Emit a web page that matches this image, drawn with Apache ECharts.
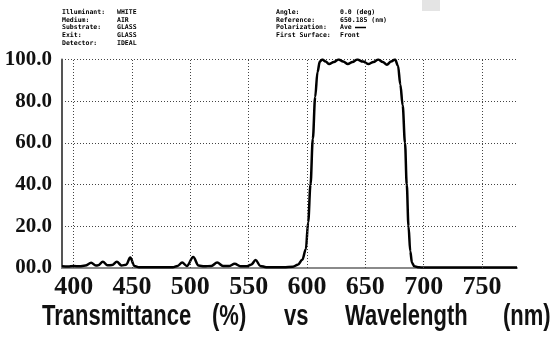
<!DOCTYPE html>
<html>
<head>
<meta charset="utf-8">
<script src="https://cdn.jsdelivr.net/npm/echarts@6/dist/echarts.min.js"></script>
<style>
    html, body { margin: 0; padding: 0; background: #fff; }
    #chart { width: 555px; height: 338px; }
</style>
</head>
<body>
<div id="chart"></div>
<script>
// wavelength (nm) and transmittance (%)
const wavelengths = [
    390, 395, 400, 405, 410, 415, 419, 421, 425, 429, 433, 437, 441, 445, 448.5, 452, 456, 470,
    485, 489, 493, 497, 502.5, 507, 512, 518, 523, 528, 533, 538, 543, 548, 552, 556, 560, 565,
    580, 588, 592, 596, 599, 601, 603, 605, 607, 609, 611, 613, 616, 619, 623, 627, 631, 635,
    639, 643, 648, 652.5, 657, 661, 665, 668.5, 672, 675.5, 678, 680, 682, 684, 685.5, 687,
    688.5, 690, 692, 696, 700, 780
];
const transmittance = [
    0.8, 0.7, 0.9, 0.8, 1.2, 2.5, 1.2, 1.3, 3.0, 1.3, 1.4, 3.0, 1.2, 1.6, 5.0, 1.0, 0.4, 0.3,
    0.4, 1.0, 2.6, 1.0, 5.3, 1.2, 0.8, 1.0, 2.6, 1.0, 0.9, 2.0, 0.8, 0.8, 1.5, 3.8, 1.0, 0.4,
    0.3, 0.6, 1.5, 4.0, 9, 22, 40, 62, 82, 94, 99, 100, 99, 97.8, 98.8, 100, 99, 97.8,
    98.8, 100, 99, 97.8, 98.8, 100, 98.8, 97.5, 99, 100, 97, 88, 78, 60, 40, 20,
    8, 2.5, 0.8, 0.3, 0.2, 0.2
];

// axis ticks
const xTicks = [400, 450, 500, 550, 600, 650, 700, 750];
const yTicks = [0, 20, 40, 60, 80, 100];
const yLabels = ['00.0', '20.0', '40.0', '60.0', '80.0', '100.0'];

// header block (design parameters)
const headerLeft = [
    ['Illuminant:', 'WHITE'],
    ['Medium:', 'AIR'],
    ['Substrate:', 'GLASS'],
    ['Exit:', 'GLASS'],
    ['Detector:', 'IDEAL']
];
const headerRight = [
    ['Angle:', '0.0 (deg)'],
    ['Reference:', '650.185 (nm)'],
    ['Polarization:', 'Ave'],
    ['First Surface:', 'Front']
];

// title words (spread out like the original)
const titleWords = ['Transmittance', '(%)', 'vs', 'Wavelength', '(nm)'];
const titleX = [42, 212, 284, 345, 503];

document.addEventListener('DOMContentLoaded', function () {

    let chart = echarts.init(document.getElementById('chart'));

    let data = wavelengths.map((w, i) => [w, transmittance[i]]);

    let headerFont = 'bold 6.5px "DejaVu Sans Mono", monospace';
    let graphics = [];

    headerLeft.forEach((row, i) => {
        graphics.push({ type: 'text', left: 62, top: 9 + i * 7.6, style: { text: row[0], font: headerFont, fill: '#000' } });
        graphics.push({ type: 'text', left: 117, top: 9 + i * 7.6, style: { text: row[1], font: headerFont, fill: '#000' } });
    });
    headerRight.forEach((row, i) => {
        graphics.push({ type: 'text', left: 276, top: 9 + i * 7.6, style: { text: row[0], font: headerFont, fill: '#000' } });
        graphics.push({ type: 'text', left: 340, top: 9 + i * 7.6, style: { text: row[1], font: headerFont, fill: '#000' } });
    });
    // little polarization line sample, after "Ave"
    graphics.push({ type: 'line', shape: { x1: 355, y1: 27.5, x2: 366, y2: 27.5 }, style: { stroke: '#000', lineWidth: 1.5 } });
    // faint scan smudge at the top
    graphics.push({ type: 'rect', shape: { x: 422, y: 0, width: 18, height: 11 }, style: { fill: '#e4e4e4' } });

    titleWords.forEach((w, i) => {
        graphics.push({
            type: 'text', x: titleX[i], y: 303, scaleY: 1.3,
            style: { text: w, font: 'bold 22px "Liberation Sans", Arial, sans-serif', fill: '#111', verticalAlign: 'top' }
        });
    });

    chart.setOption({
        animation: false,
        grid: { left: 62, right: 38, top: 59.5, bottom: 70 },
        xAxis: {
            type: 'value',
            min: 390,
            max: 780,
            axisLine: { show: true, lineStyle: { color: '#8a8a8a', width: 2 } },
            axisTick: { show: false },
            splitLine: { show: false },
            axisLabel: {
                customValues: xTicks,
                margin: 6,
                color: '#111',
                fontFamily: '"Liberation Serif", "Times New Roman", serif',
                fontWeight: 'bold',
                fontSize: 26
            }
        },
        yAxis: {
            type: 'value',
            min: 0,
            max: 100,
            interval: 20,
            axisLine: { show: true, lineStyle: { color: '#555', width: 2 } },
            axisTick: { show: false },
            splitLine: { show: true, lineStyle: { color: '#444', width: 1, type: [1, 2] } },
            axisLabel: {
                margin: 10,
                color: '#111',
                fontFamily: '"Liberation Serif", "Times New Roman", serif',
                fontWeight: 'bold',
                fontSize: 21,
                formatter: function (v) {
                    return yLabels[yTicks.indexOf(v)];
                }
            }
        },
        graphic: graphics,
        series: [
            {
                type: 'line',
                data: data,
                showSymbol: false,
                smooth: 0.35,
                smoothMonotone: 'x',
                lineStyle: { color: '#000', width: 2.5 },
                markLine: {
                    silent: true,
                    symbol: 'none',
                    label: { show: false },
                    lineStyle: { color: '#444', width: 1, type: [1, 2] },
                    data: xTicks.map(t => ({ xAxis: t }))
                },
                z: 3
            }
        ]
    });

});
</script>
</body>
</html>
